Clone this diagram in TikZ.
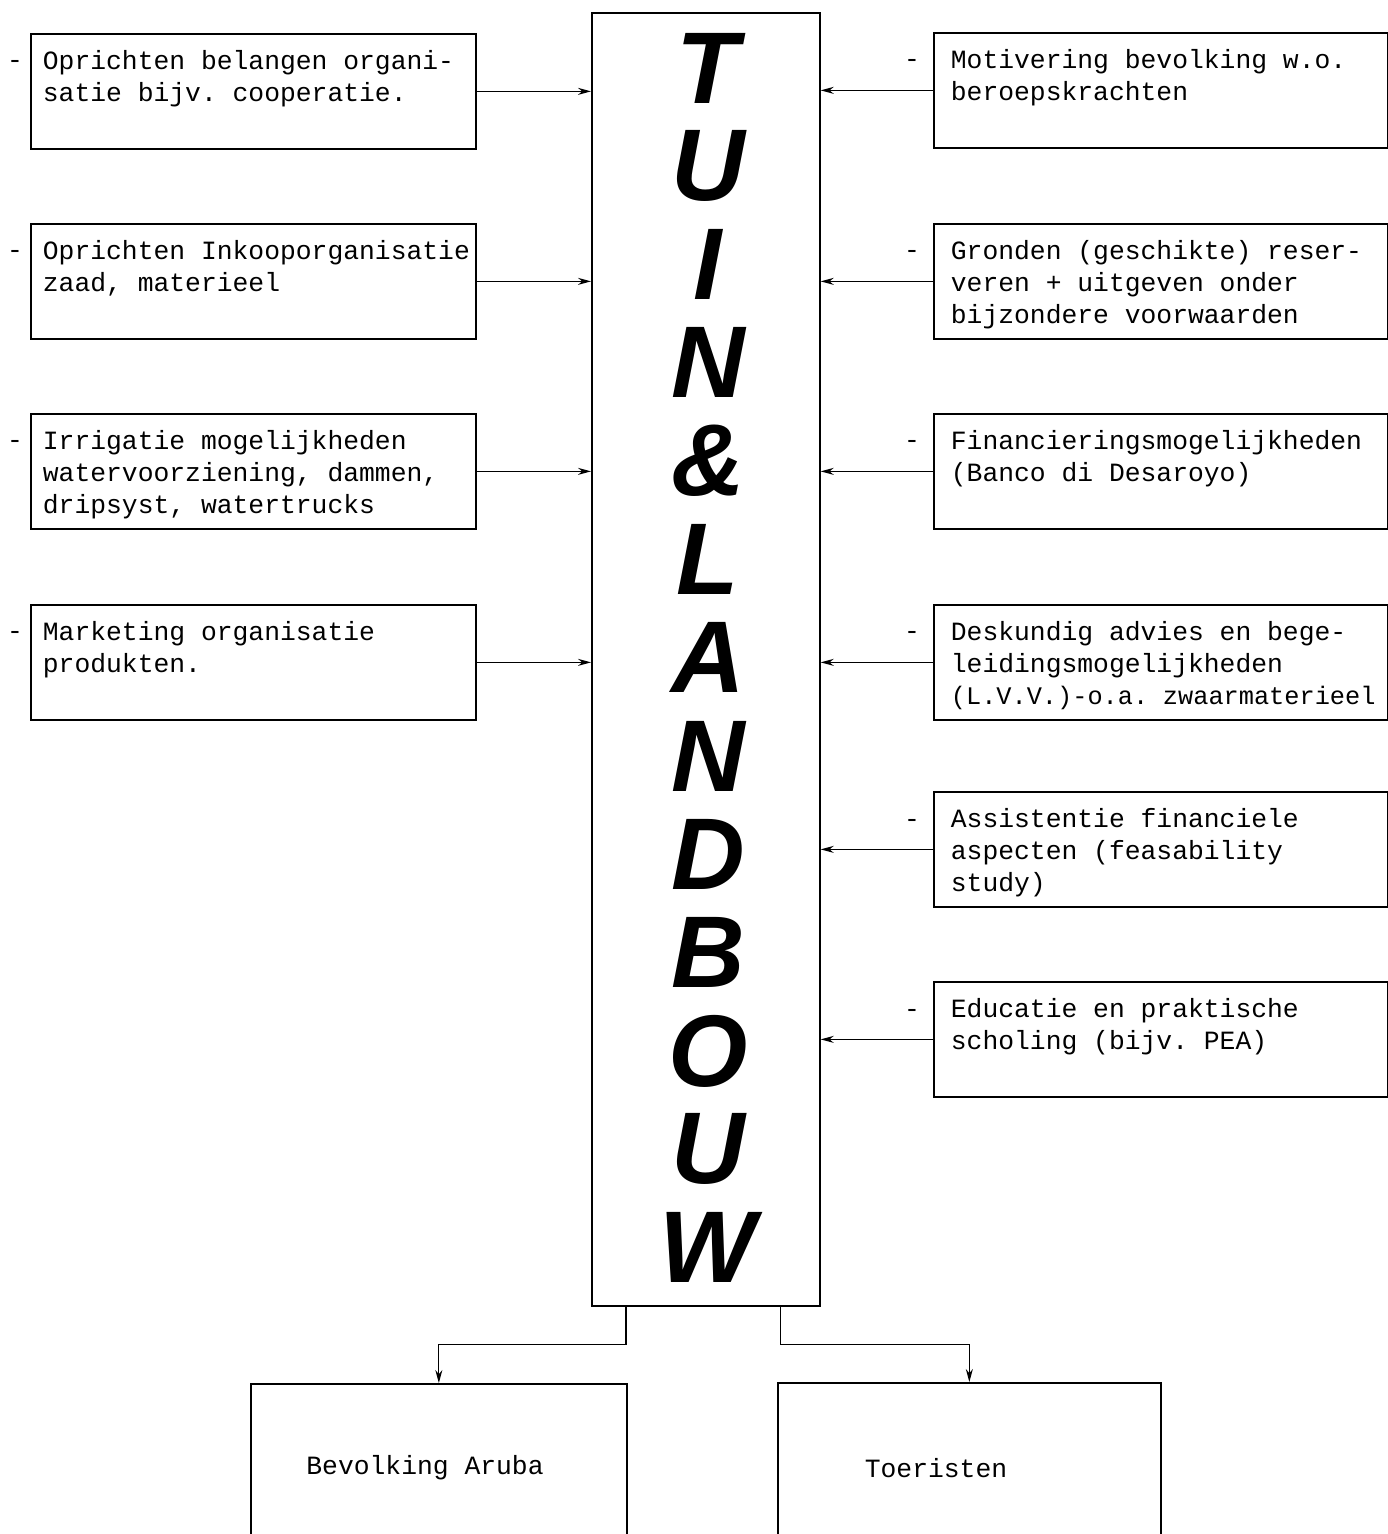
\documentclass[tikz,border=0pt]{standalone}
\usepackage{fontspec}
\setmainfont{Liberation Serif}
\setsansfont{Liberation Sans}
\setmonofont{Liberation Mono}
\usetikzlibrary{arrows.meta, positioning}

\tikzset{
    tw/.style={font=\fontsize{15}{18.2}\selectfont\ttfamily,
        execute at begin node={\frenchspacing\spaceskip=9pt\relax}},
    big/.style={font=\fontsize{58}{58}\selectfont\sffamily\bfseries\itshape, inner sep=0pt},
    item/.style={tw, draw, line width=1pt, anchor=north west, align=left,
        inner xsep=0.24cm, inner ysep=0pt, text width=8.42cm,
        text height=0.72cm, text depth=1.58cm},
    ritem/.style={item, inner xsep=0.34cm, text width=8.4cm},
    bbox/.style={draw, line width=1pt, anchor=north west, inner sep=0pt,
        minimum width=7.52cm, minimum height=3.4cm},
    arr/.style={-{Stealth[length=2.6mm, width=1.4mm]}, line width=0.7pt}
}

\begin{document}
\begin{tikzpicture}[x=0.02cm, y=-0.02cm]
    \useasboundingbox (0,0) rectangle (1387,1534);

    % Centre column
    \node[draw, line width=1pt, anchor=north west, inner sep=0pt,
        minimum width=4.56cm, minimum height=25.86cm] (tl) at (591,12) {};
    \foreach \ch [count=\i] in {T,U,I,N,\&,L,A,N,D,B,O,U,W}
        \node[big] (ch\i) at (708,{68+98.3*(\i-1)}) {\ch};

    % Left column
    \foreach \y/\txt [count=\i] in {
        33/{Oprichten belangen organi-\\satie bijv. cooperatie.},
        223/{\mbox{Oprichten Inkooporganisatie}\\zaad, materieel},
        413/{Irrigatie mogelijkheden\\watervoorziening, dammen,\\dripsyst, watertrucks},
        604/{Marketing organisatie\\produkten.}}
    {
        \node[item] (l\i) at (30,\y) {\txt};
        \node[tw, anchor=base] (ld\i) at ([xshift=-0.3cm, yshift=-0.72cm]l\i.north west) {-};
        \draw[arr] (l\i.east) -- (l\i.east -| tl.west);
    }

    % Right column
    \foreach \y/\txt [count=\i] in {
        32/{Motivering bevolking w.o.\\beroepskrachten},
        223/{Gronden (geschikte) reser-\\veren + uitgeven onder\\bijzondere voorwaarden},
        413/{Financieringsmogelijkheden\\(Banco di Desaroyo)},
        604/{Deskundig advies en bege-\\leidingsmogelijkheden\\\mbox{\fontsize{14.4}{18.2}\selectfont\spaceskip=8.4pt(L.V.V.)-o.a. zwaarmaterieel}},
        791/{Assistentie financiele\\aspecten (feasability\\study)},
        981/{Educatie en praktische\\scholing (bijv. PEA)}}
    {
        \node[ritem] (r\i) at (933,\y) {\txt};
        \node[tw, anchor=base] (rd\i) at ([xshift=-0.42cm, yshift=-0.72cm]r\i.north west) {-};
        \draw[arr] (r\i.west) -- (r\i.west -| tl.east);
    }

    % Target groups
    \node[bbox] (ba) at (250,1383) {};
    \node[bbox, minimum width=7.66cm] (to) at (777,1382) {};
    \node[tw] (batxt) at (425,1468) {Bevolking Aruba};
    \node[tw] (totxt) at (936,1468) {Toeristen};
    \draw[arr] ([xshift=0.7cm]tl.south west) -- ++(0,38) -| (ba.north);
    \draw[arr] ([xshift=-0.8cm]tl.south east) -- ++(0,38) -| (to.north);
\end{tikzpicture}
\end{document}
